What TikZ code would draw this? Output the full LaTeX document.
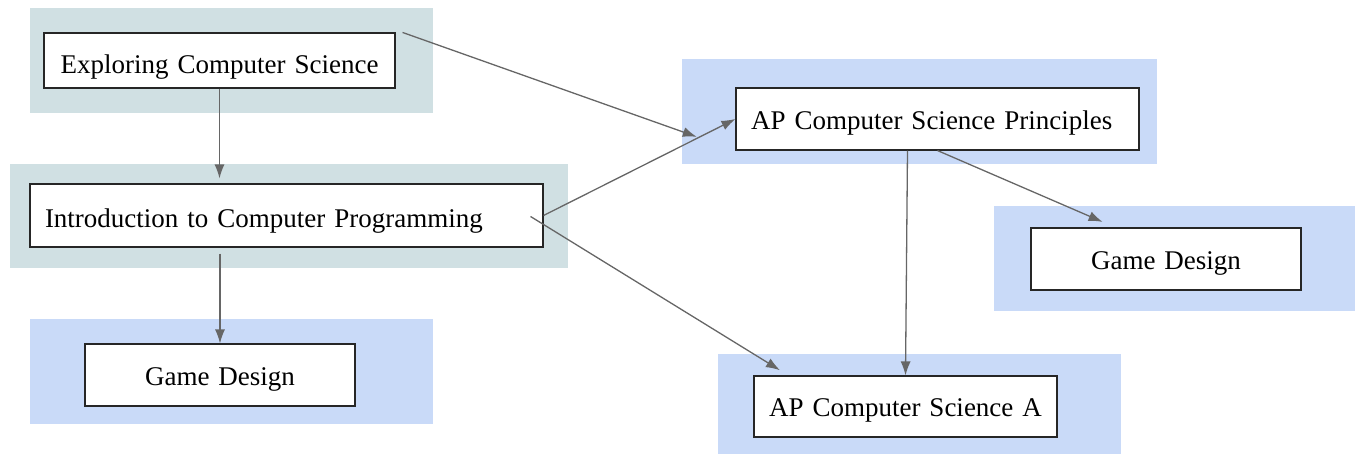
\documentclass[tikz,border=0pt]{standalone}
\usepackage{fontspec}
\setmainfont{Liberation Serif}
\usepackage{xcolor}
\usepackage{tikz}
\usetikzlibrary{shapes}
\usetikzlibrary{arrows.meta}
\tikzset{
  font={\fontsize{27pt}{32}\selectfont}}
\definecolor{tealpanel}{HTML}{D0E0E3}
\definecolor{bluepanel}{HTML}{C9DAF8}
\definecolor{edgegray}{HTML}{666666}

\begin{document}
\begin{tikzpicture}[x=1pt, y=-1pt]

        \tikzset{edge/.style = {->, > = {Latex[length=14pt,width=10pt]}, draw=edgegray, line width=1.3pt}}
        \tikzset{panel/.style = {rectangle, inner sep=0pt, minimum height=105pt}}
        \tikzset{course/.style = {rectangle, draw=black!85, fill=white, line width=1.1pt,
            inner xsep=15pt, inner ysep=0pt, minimum height=62pt, text height=21pt, text depth=0pt}}

        \useasboundingbox (0,0) rectangle (1358,454);

        % panels
        \node[panel, fill=tealpanel, minimum width=403pt] (ecsbg) at (231.5,60.5) {};
        \node[panel, fill=tealpanel, minimum width=558pt, minimum height=104pt] (icpbg) at (289,216) {};
        \node[panel, fill=bluepanel, minimum width=403pt] (gdlbg) at (231.5,371.5) {};
        \node[panel, fill=bluepanel, minimum width=475pt] (cspbg) at (919.5,111.5) {};
        \node[panel, fill=bluepanel, minimum width=361pt] (gdrbg) at (1174.5,258.5) {};
        \node[panel, fill=bluepanel, minimum width=403pt] (csabg) at (919.5,406.5) {};

        % vertices
        \node[course, text width=321pt, align=center, minimum height=55pt, text height=26pt] (ecs)
            at (219.5,60.5) {Exploring Computer Science};
        \node[course, text width=483pt, align=left, minimum height=63pt, text height=24pt] (icp)
            at (286.5,215.5) {Introduction to Computer Programming};
        \node[course, text width=240pt, align=center] (gdl)
            at (220,375) {Game Design};
        \node[course, text width=373pt, align=left] (csp)
            at (937.5,119) {AP Computer Science Principles};
        \node[course, text width=240pt, align=center] (gdr)
            at (1166,259) {Game Design};
        \node[course, text width=273pt, align=left, minimum height=61pt] (csa)
            at (905.5,406.5) {AP Computer Science A};

        %edges
        \draw[edge, shorten >=5pt] (ecs.south) -- (ecs.south |- icp.north);
        \draw[edge, shorten <=6pt] (icp.south -| gdl.north) -- (gdl.north);
        \draw[edge, shorten >=41pt] ([xshift=7pt]ecs.north east) -- (csp.south west);
        \draw[edge] (icp.east) -- (csp.west);
        \draw[edge, shorten >=10pt] ([xshift=-13pt,yshift=-1pt]icp.east) -- ([xshift=35pt]csa.north west);
        \draw[edge] ([xshift=-30pt]csp.south) -- (csa.north);
        \draw[edge, shorten >=14pt] (csp.south) -- ([xshift=85pt]gdr.north west);

\end{tikzpicture}
\end{document}
